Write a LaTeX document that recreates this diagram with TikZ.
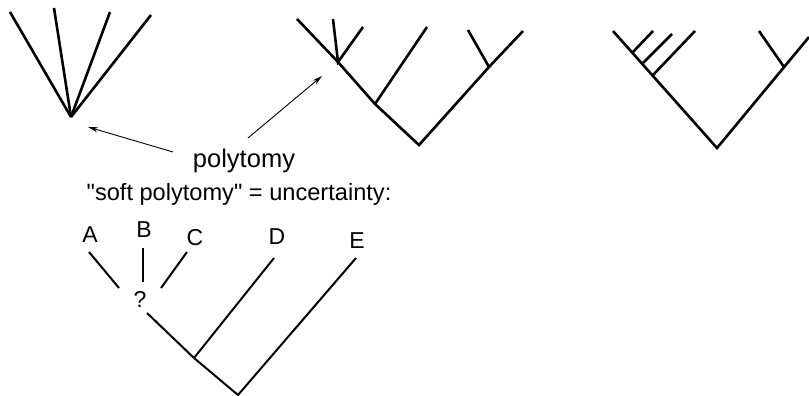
\documentclass[tikz,border=0pt]{standalone}
\usepackage{fontspec}
\setmainfont{Liberation Sans}
\newfontfamily\plainfont{Liberation Sans}
\usetikzlibrary{arrows.meta}

\begin{document}
\begin{tikzpicture}[x=0.5pt,y=-0.5pt]
\tikzset{BranchStyle/.style ={line width=1.3pt}}
\tikzset{SoftStyle/.style ={line width=1pt}}
\tikzset{ArrowStyle/.style ={-{Stealth[length=5pt,width=2.6pt]},line width=0.45pt}}
\tikzset{LabelStyle/.style ={anchor=base,inner sep=0pt,font=\fontsize{11.5}{13}\selectfont}}
\useasboundingbox (0,0) rectangle (809,396);
% star tree
\coordinate (R1) at (71,117);
\foreach \x/\y [count=\i] in {10/12,54/8,110/12,151/15}{
  \coordinate (L1\i) at (\x,\y);
  \draw[BranchStyle] (R1) -- (L1\i);
}
% tree with one polytomy
\coordinate (R2) at (419,145);
\coordinate (N2a) at (375,104);
\coordinate (P2) at (338,62);
\coordinate (N2b) at (489,67);
\coordinate (L2a) at (297,19);
\coordinate (L2b) at (333,19);
\coordinate (L2c) at (363,27);
\coordinate (L2d) at (427,27);
\coordinate (L2e) at (468,30);
\coordinate (L2f) at (523,31);
\draw[BranchStyle] (L2a) -- (P2) -- (N2a) -- (R2) -- (N2b) -- (L2f);
\draw[BranchStyle] (L2b) -- (P2) -- (L2c);
\draw[BranchStyle] (N2a) -- (L2d);
\draw[BranchStyle] (N2b) -- (L2e);
% resolved tree
\coordinate (R3) at (717,148);
\coordinate (N3a) at (653,75);
\coordinate (N3b) at (643,63);
\coordinate (N3c) at (633,52);
\coordinate (N3d) at (784,67);
\coordinate (L3a) at (613,31);
\coordinate (L3b) at (653,31);
\coordinate (L3c) at (672,34);
\coordinate (L3d) at (695,31);
\coordinate (L3e) at (759,31);
\coordinate (L3f) at (809,37);
\draw[BranchStyle] (L3a) -- (R3) -- (L3f);
\draw[BranchStyle] (N3c) -- (L3b);
\draw[BranchStyle] (N3b) -- (L3c);
\draw[BranchStyle] (N3a) -- (L3d);
\draw[BranchStyle] (N3d) -- (L3e);
% labels and arrows
\node[LabelStyle,font=\fontsize{12.75}{15}\selectfont] (poly) at (244,167) {polytomy};
\node[LabelStyle,font=\plainfont\fontsize{11.8}{14}\selectfont] (soft) at (239,200) {"soft polytomy" = uncertainty:};
\coordinate (arrA) at (173,152);
\coordinate (arrB) at (248,138);
\coordinate (tipA) at (88,127);
\coordinate (tipB) at (322,76);
\draw[ArrowStyle] (arrA) -- (tipA);
\draw[ArrowStyle] (arrB) -- (tipB);
% soft polytomy tree
\node[LabelStyle] (A) at (90,242) {A};
\node[LabelStyle] (B) at (144,237) {B};
\node[LabelStyle] (C) at (195,245) {C};
\node[LabelStyle] (D) at (277,244) {D};
\node[LabelStyle] (E) at (357,248) {E};
\node[LabelStyle] (q) at (140,307) {?};
\coordinate (A1) at (89,252);
\coordinate (A2) at (119,288);
\coordinate (B1) at (143,248);
\coordinate (B2) at (143,282);
\coordinate (C1) at (187,252);
\coordinate (C2) at (161,288);
\coordinate (Q) at (147,313);
\coordinate (ND) at (194,358);
\coordinate (R4) at (238,395);
\coordinate (LD) at (274,258);
\coordinate (LE) at (356,258);
\draw[SoftStyle] (A1) -- (A2);
\draw[SoftStyle] (B1) -- (B2);
\draw[SoftStyle] (C1) -- (C2);
\draw[SoftStyle] (Q) -- (ND) -- (R4) -- (LE);
\draw[SoftStyle] (ND) -- (LD);
\end{tikzpicture}
\end{document}
